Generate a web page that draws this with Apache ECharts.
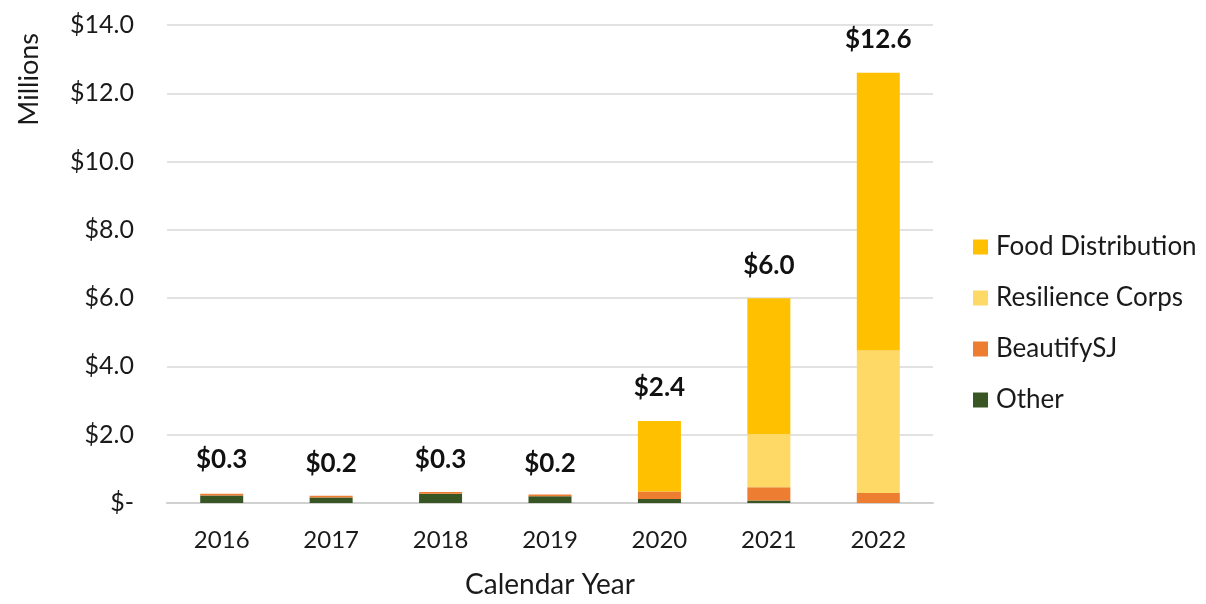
<!DOCTYPE html>
<html>
<head>
<meta charset="utf-8">
<script src="https://cdn.jsdelivr.net/npm/echarts@6/dist/echarts.min.js"></script>
<style>html,body{margin:0;padding:0;background:#fff;}#main{width:1206px;height:604px;}</style>
</head>
<body>
<div id="main"></div>
<script>
const years = ['2016','2017','2018','2019','2020','2021','2022'];
const other = [0.22, 0.16, 0.27, 0.20, 0.12, 0.07, 0.0];
const beautify = [0.05, 0.05, 0.05, 0.05, 0.22, 0.39, 0.29];
const resilience = [0, 0, 0, 0, 0, 1.56, 4.18];
const food = [0, 0, 0, 0, 2.06, 3.98, 8.13];
const totals = [0.3, 0.2, 0.3, 0.2, 2.4, 6.0, 12.6];
const yTicks = [0, 2, 4, 6, 8, 10, 12, 14];

const FONT = 'Lato, "Open Sans", sans-serif';
const chart = echarts.init(document.getElementById('main'));
function stackSeries(name, data, color) {
  return { name, type: 'bar', stack: 'total', data, barWidth: 43,
    itemStyle: { color }, emphasis: { disabled: true } };
}
chart.setOption({
  animation: false,
  textStyle: { fontFamily: FONT },
  grid: { left: 167, right: 273, top: 25, bottom: 93, containLabel: false },
  legend: {
    orient: 'vertical', left: 968, top: 229, itemGap: 25,
    itemWidth: 15, itemHeight: 15, icon: 'rect',
    textStyle: { fontSize: 26, color: '#1a1a1a', fontFamily: FONT, padding: [0, 0, 0, 3] },
    data: ['Food Distribution', 'Resilience Corps', 'BeautifySJ', 'Other']
  },
  xAxis: {
    type: 'category', data: years,
    name: 'Calendar Year', nameLocation: 'middle', nameGap: 68,
    nameTextStyle: { fontSize: 28, color: '#1a1a1a' },
    axisTick: { show: false },
    axisLine: { lineStyle: { color: '#d0d0d0', width: 2 } },
    axisLabel: { fontSize: 24, color: '#1a1a1a', margin: 25 }
  },
  yAxis: {
    type: 'value', min: 0, max: 14, interval: 2,
    axisLine: { show: false }, axisTick: { show: false },
    splitLine: { lineStyle: { color: '#d9d9d9', width: 1.5 } },
    axisLabel: { fontSize: 25, color: '#1a1a1a', margin: 33,
      formatter: v => yTicks.includes(v) ? (v === 0 ? '$-' : '$' + v.toFixed(1)) : '' }
  },
  graphic: [{
    type: 'text', left: 16, top: 33, rotation: Math.PI / 2,
    style: { text: 'Millions', fontSize: 27, fill: '#1a1a1a', fontFamily: FONT }
  }],
  series: [
    stackSeries('Other', other, '#375623'),
    stackSeries('BeautifySJ', beautify, '#ED7D31'),
    stackSeries('Resilience Corps', resilience, '#FFD966'),
    stackSeries('Food Distribution', food, '#FFC000'),
    { name: 'Total', type: 'bar', data: totals, barWidth: 43, barGap: '-100%',
      itemStyle: { color: 'rgba(0,0,0,0)' }, z: 0, silent: true,
      label: { show: true, position: 'top', distance: 20, fontSize: 26, fontWeight: 'bold',
        color: '#111', fontFamily: FONT, formatter: p => '$' + p.value.toFixed(1) } }
  ]
});
</script>
</body>
</html>
